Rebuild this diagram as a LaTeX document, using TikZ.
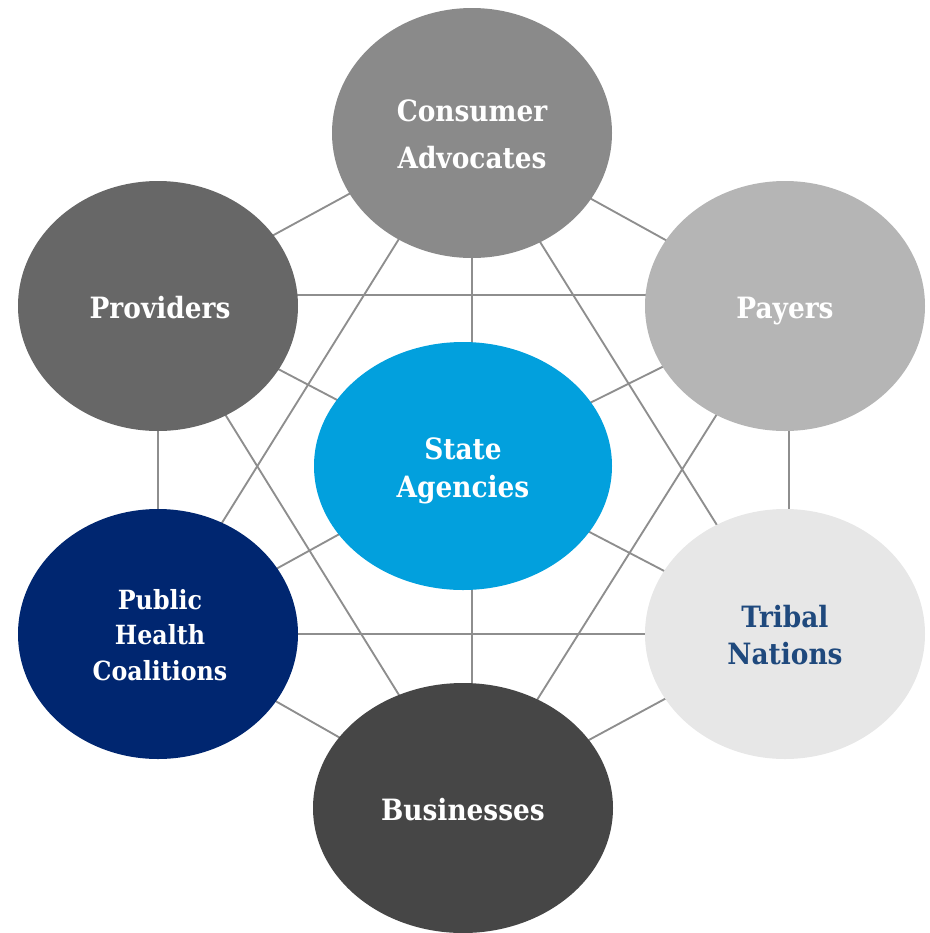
\documentclass[tikz,border=0pt]{standalone}
\usepackage{fontspec}
\newfontfamily\lblfont{DejaVuSerifCondensed-Bold.ttf}
\usetikzlibrary{shapes.geometric,backgrounds}
\definecolor{cCons}{HTML}{8A8A8A}
\definecolor{cProv}{HTML}{676767}
\definecolor{cPay}{HTML}{B5B5B5}
\definecolor{cState}{HTML}{02A0DD}
\definecolor{cPH}{HTML}{002670}
\definecolor{cTrib}{HTML}{E7E7E7}
\definecolor{cBus}{HTML}{464646}
\definecolor{cTribText}{HTML}{1F497D}
\definecolor{linkgray}{HTML}{8E8E8E}
\begin{document}
\begin{tikzpicture}[x=0.75pt,y=-0.75pt,
  blob/.style={ellipse,inner sep=0pt,minimum width=210pt,minimum height=187.5pt},
  lbl/.style={align=center,anchor=base,text=white,inner sep=0pt},
  link/.style={draw=linkgray,line width=1.4pt}]
\useasboundingbox (0,0) rectangle (930,933);
% ellipses
\node[blob,fill=cCons] (cons) at (472,133) {};
\node[blob,fill=cProv] (prov) at (158,306) {};
\node[blob,fill=cPay] (pay) at (785,306) {};
\node[blob,fill=cState,minimum width=223.5pt,minimum height=186pt] (state) at (463,466) {};
\node[blob,fill=cPH] (ph) at (158,634) {};
\node[blob,fill=cTrib] (trib) at (785,634) {};
\node[blob,fill=cBus,minimum width=225pt] (bus) at (463,808) {};
% texts (anchor base = baseline of last line)
\node[lbl,font=\lblfont\fontsize{22}{35.25}\selectfont] (consT) at (472,168) {Consumer\\Advocates};
\node[lbl,font=\lblfont\fontsize{22}{26}\selectfont] (provT) at (160,318) {Providers};
\node[lbl,font=\lblfont\fontsize{22}{26}\selectfont] (payT) at (785,318) {Payers};
\node[lbl,font=\lblfont\fontsize{22}{28.5}\selectfont] (stateT) at (463,497) {State\\Agencies};
\node[lbl,font=\lblfont\fontsize{19.8}{26.6}\selectfont] (phT) at (160,680) {Public\\Health\\Coalitions};
\node[lbl,text=cTribText,font=\lblfont\fontsize{22}{27.75}\selectfont] (tribT) at (785,664) {Tribal\\Nations};
\node[lbl,font=\lblfont\fontsize{22}{26}\selectfont] (busT) at (463,820) {Businesses};
% connectors
\begin{pgfonlayer}{background}
\draw[link] ([yshift=4.5pt]cons.center) -- ([yshift=6pt]prov.center);
\draw[link] (cons.center) -- (pay.center);
\draw[link] (cons.center) -- (cons.center |- state.center);
\draw[link] ([yshift=8.25pt]prov.center) -- ([yshift=8.25pt]pay.center);
\draw[link] ([xshift=-5.25pt]cons.center) -- ([xshift=-4pt]ph.center);
\draw[link] (cons.center) -- (trib.center);
\draw[link] (prov.center) -- (state.center);
\draw[link] (pay.center) -- (state.center);
\draw[link] (prov.center) -- ([xshift=4.5pt]bus.center);
\draw[link] (pay.center) -- ([xshift=4.5pt]bus.center);
\draw[link] (prov.center) -- (ph.center);
\draw[link] ([xshift=3pt]pay.center) -- ([xshift=3pt]trib.center);
\draw[link] (state.center) -- (ph.center);
\draw[link] (state.center) -- (trib.center);
\draw[link] (ph.center) -- (trib.center);
\draw[link] (cons.center |- state.center) -- (cons.center |- bus.center);
\draw[link] (ph.center) -- (bus.center);
\draw[link] (trib.center) -- (bus.center);
\end{pgfonlayer}
\end{tikzpicture}
\end{document}
